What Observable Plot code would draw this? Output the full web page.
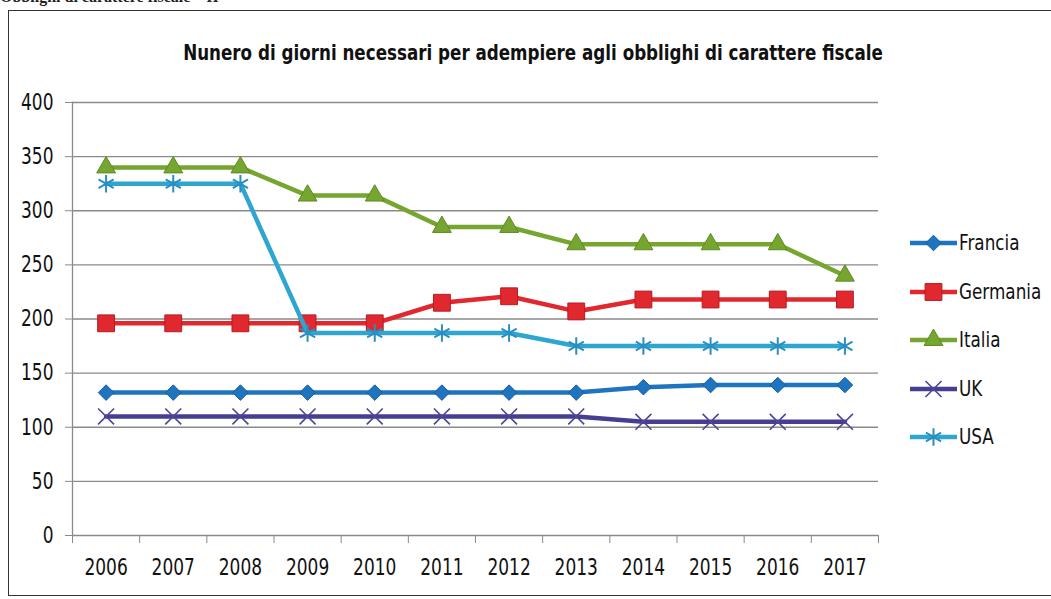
<!DOCTYPE html>
<html><head><meta charset="utf-8">
<script src="https://cdn.jsdelivr.net/npm/d3@7"></script>
<script src="https://cdn.jsdelivr.net/npm/@observablehq/plot@0.6"></script>
<style>
html,body{margin:0;padding:0;background:#fff;overflow:hidden;}
#wrap{position:relative;width:1051px;height:599px;overflow:hidden;font-family:"DejaVu Sans",sans-serif;}
#top{position:absolute;left:0;top:-12px;font:bold 16px "Liberation Serif",serif;color:#222;white-space:nowrap;}
#frame{position:absolute;left:8px;top:10px;width:1070px;height:586px;border:1.5px solid #333;box-sizing:border-box;}
#title{position:absolute;left:0;top:0;pointer-events:none;overflow:visible;}
#chart{position:absolute;left:0;top:0;}
#legend{position:absolute;left:910px;top:219px;}
.row{display:flex;align-items:center;height:48.5px;}
.row span{display:inline-block;font-size:21px;color:#111;margin-left:1px;transform:scaleX(0.8);transform-origin:0 50%;}
</style>
</head><body>
<div id="wrap">
  <div id="top">Obblighi di carattere fiscale – II</div>
  <div id="frame"></div>
  <div id="chart"></div>
  <svg id="title" width="1051" height="599"><text id="ttl" transform="translate(533,60)" text-anchor="middle" font-family="DejaVu Sans, sans-serif" font-weight="bold" font-size="21" fill="#111">Nunero di giorni necessari per adempiere agli obblighi di carattere fiscale</text></svg>
  <div id="legend"></div>
</div>
<script>
const years = [2006,2007,2008,2009,2010,2011,2012,2013,2014,2015,2016,2017];
const series = ["Francia","Germania","Italia","UK","USA"];
const francia  = [132,132,132,132,132,132,132,132,137,139,139,139];
const germania = [196,196,196,196,196,215,221,207,218,218,218,218];
const italia   = [340,340,340,314,314,285,285,269,269,269,269,240];
const uk       = [110,110,110,110,110,110,110,110,105,105,105,105];
const usa      = [325,325,325,187,187,187,187,175,175,175,175,175];
const yTicks = [0,50,100,150,200,250,300,350,400];

const values = [francia, germania, italia, uk, usa];
const data = series.flatMap((s,i) => years.map((y,j) => ({series:s, year:y, value:values[i][j]})));
const bounds = [years[0]-0.5, ...years.map(y => y+0.5)];

const colors = ["#1f74c0","#e0282e","#76a530","#463f91","#2ea6cf"];
const styles = {
  Francia:  {symbol:"diamond2", r:7,   fill:"#1f74c0", stroke:"#1a5c9c", strokeWidth:1},
  Germania: {symbol:"square",   r:9.5, fill:"#e0282e", stroke:"#b41d23", strokeWidth:1},
  Italia:   {symbol:"triangle", r:7,   fill:"#76a530", stroke:"#5f8a22", strokeWidth:1},
  UK:       {symbol:"times",    r:7.3, fill:"none",    stroke:"#4d4596", strokeWidth:1.6},
  USA:      {symbol:"asterisk", r:8.3, fill:"none",    stroke:"#2a8fc0", strokeWidth:2}
};

// fit title to the original's width (700px) by horizontal scaling
const ttl = document.getElementById("ttl");
const tw = ttl.getComputedTextLength();
if (tw > 0) ttl.setAttribute("transform", `translate(533,60) scale(${700/tw},1)`);

const grid = "#8a8a8a";
const seriesMarks = series.flatMap(s => {
  const d = data.filter(v => v.series === s);
  return [
    Plot.line(d, {x:"year", y:"value", stroke:"series", strokeWidth:4.5}),
    Plot.dot(d, {x:"year", y:"value", ...styles[s]})
  ];
});

const chart = Plot.plot({
  width:1051, height:599,
  marginLeft:72, marginRight:173, marginTop:102, marginBottom:64,
  style:{fontFamily:'"DejaVu Sans",sans-serif', fontSize:"23px", color:"#111", background:"transparent", overflow:"visible"},
  x:{type:"linear", domain:[2005.5,2017.5], label:null},
  y:{domain:[0,400], label:null},
  color:{domain:series, range:colors},
  marks:[
    Plot.ruleY(yTicks, {stroke:grid, strokeWidth:1.3}),
    Plot.frame({anchor:"left", stroke:grid, strokeWidth:1.3}),
    Plot.axisY(yTicks, {tickSize:7, tickPadding:12, stroke:grid, fill:"#111", fontSize:23, tickFormat:d => String(d), label:null}),
    Plot.axisX(bounds, {tickSize:8, stroke:grid, tickFormat:() => "", label:null}),
    Plot.axisX(years, {tickSize:0, tickPadding:23, fill:"#111", fontSize:23, tickFormat:d => String(d), label:null}),
    ...seriesMarks
  ]
});
// condense tick label glyphs horizontally (narrow font look of the original)
d3.select(chart).selectAll("text").each(function() {
  const t = this.getAttribute("transform");
  if (t) this.setAttribute("transform", t + " scale(0.74,1)");
});
document.getElementById("chart").appendChild(chart);

// legend
const leg = d3.select("#legend");
const symMap = {diamond2:d3.symbolDiamond2, square:d3.symbolSquare, triangle:d3.symbolTriangle, times:d3.symbolTimes, asterisk:d3.symbolAsterisk};
series.forEach((s,i) => {
  const st = styles[s];
  const row = leg.append("div").attr("class","row");
  const svg = row.append("svg").attr("width",48).attr("height",24);
  svg.append("line").attr("x1",0).attr("x2",47).attr("y1",12).attr("y2",12)
     .attr("stroke",colors[i]).attr("stroke-width",4.5);
  svg.append("path").attr("transform","translate(23.5,12)")
     .attr("d", d3.symbol(symMap[st.symbol], Math.PI*st.r*st.r)())
     .attr("fill", st.fill).attr("stroke", st.stroke).attr("stroke-width", st.strokeWidth);
  row.append("span").text(s);
});
</script>
</body></html>
